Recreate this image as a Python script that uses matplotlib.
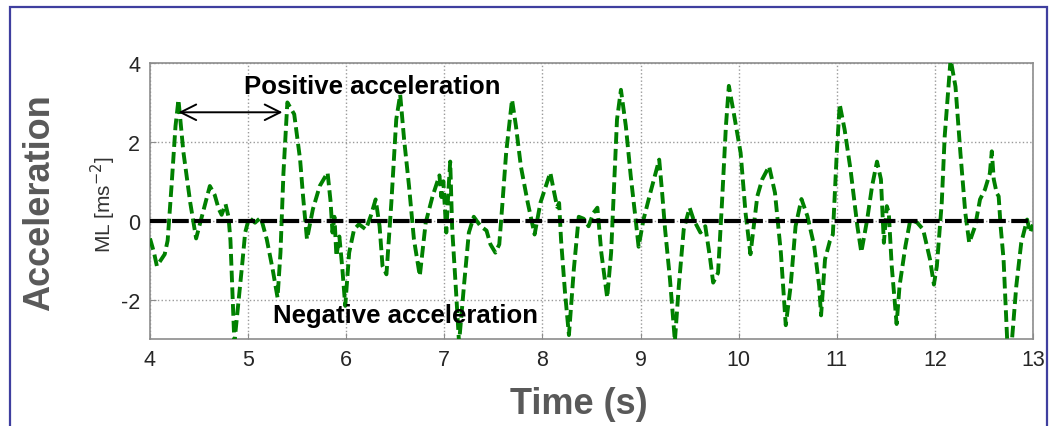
import numpy as np
import matplotlib.pyplot as plt
from matplotlib.patches import Rectangle

# time (s) and medio-lateral acceleration (m/s^2)
time_s = [
    4.00, 4.04, 4.07, 4.11, 4.15, 4.18, 4.22, 4.26, 4.29, 4.34, 4.41, 4.47, 4.53,
    4.58, 4.61, 4.66, 4.70, 4.73, 4.77, 4.80, 4.82, 4.84, 4.86, 4.90, 4.94, 4.97,
    5.01, 5.07, 5.13, 5.19, 5.25, 5.30, 5.33, 5.36, 5.40, 5.47, 5.53, 5.56, 5.60,
    5.66, 5.73, 5.81, 5.84, 5.86, 5.88, 5.90, 5.93, 5.96, 5.99, 6.03, 6.08, 6.13,
    6.20, 6.25, 6.30, 6.34, 6.37, 6.41, 6.46, 6.51, 6.55, 6.59, 6.64, 6.69, 6.75,
    6.81, 6.88, 6.95, 6.97, 6.99, 7.02, 7.04, 7.06, 7.08, 7.12, 7.15, 7.20, 7.25,
    7.30, 7.37, 7.43, 7.47, 7.52, 7.56, 7.59, 7.63, 7.69, 7.73, 7.78, 7.85, 7.92,
    7.98, 8.08, 8.12, 8.15, 8.17, 8.19, 8.23, 8.27, 8.32, 8.37, 8.42, 8.47, 8.52,
    8.56, 8.60, 8.66, 8.70, 8.73, 8.76, 8.80, 8.85, 8.90, 8.95, 8.98, 9.03, 9.10,
    9.19, 9.22, 9.25, 9.30, 9.35, 9.39, 9.44, 9.50, 9.54, 9.61, 9.66, 9.71, 9.74,
    9.79, 9.83, 9.87, 9.90, 9.95, 10.02, 10.07, 10.12, 10.19, 10.24, 10.31, 10.37,
    10.43, 10.48, 10.53, 10.58, 10.64, 10.70, 10.77, 10.82, 10.84, 10.88, 10.93,
    10.96, 11.00, 11.03, 11.08, 11.14, 11.21, 11.25, 11.31, 11.36, 11.41, 11.45,
    11.48, 11.51, 11.53, 11.56, 11.61, 11.64, 11.70, 11.75, 11.82, 11.88, 11.95,
    11.99, 12.02, 12.07, 12.10, 12.16, 12.21, 12.26, 12.31, 12.35, 12.41, 12.46,
    12.51, 12.56, 12.58, 12.60, 12.63, 12.65, 12.67, 12.70, 12.74, 12.78, 12.83,
    12.88, 12.94, 12.97, 13.00,
]
ml_acc = [
    -0.45, -0.80, -1.15, -1.00, -0.85, -0.50, 0.90, 2.40, 3.07, 1.75, 0.46, -0.45, 0.12,
    0.60, 0.88, 0.65, 0.30, 0.15, 0.42, 0.10, -0.50, -1.80, -3.10, -2.10, -1.10, -0.30,
    0.08, -0.05, 0.08, -0.47, -1.23, -1.95, -0.80, 1.20, 3.00, 2.70, 1.55, 0.62, -0.47,
    0.29, 0.88, 1.22, 0.50, -0.30, 0.10, -0.90, -0.40, -1.20, -2.16, -0.81, -0.22, -0.09,
    -0.22, 0.12, 0.54, -0.14, -1.15, -1.36, 0.46, 2.57, 3.20, 2.06, 0.88, -0.47, -1.40,
    -0.05, 0.62, 1.15, 0.60, 1.00, -0.30, 0.70, 1.50, -0.20, -1.82, -3.10, -1.65, -0.30,
    0.10, -0.14, -0.25, -0.60, -0.81, -0.60, 0.37, 1.72, 3.07, 2.40, 1.38, 0.46, -0.35,
    0.46, 1.22, 0.71, 0.35, 0.45, -0.50, -1.82, -2.90, -1.23, 0.10, 0.05, -0.14, 0.20,
    0.33, -0.81, -1.95, -0.81, 0.88, 2.57, 3.32, 2.40, 1.13, 0.03, -0.66, 0.03, 0.71,
    1.55, 0.71, -0.22, -1.49, -3.05, -1.65, -0.22, 0.33, 0.03, -0.30, -0.14, -0.98, -1.57,
    -1.32, 0.46, 2.40, 3.42, 2.73, 1.72, 0.20, -0.85, 0.62, 1.05, 1.38, 0.71,
    -0.81, -2.65, -1.65, -0.14, 0.55, 0.12, -0.64, -1.65, -2.40, -0.98, -0.51,
    -0.35, 1.72, 2.95, 2.31, 1.30, -0.14, -0.80, 0.03, 0.88, 1.50, 1.05,
    -0.56, 0.37, 0.20, -1.15, -2.62, -1.65, -0.64, 0.03, -0.05, -0.22, -0.98,
    -1.62, -1.15, 0.46, 2.14, 4.10, 3.40, 1.72, 0.20, -0.56, -0.14, 0.54,
    0.79, 1.20, 1.76, 1.05, 0.70, 0.62, -0.14, -0.98, -3.20, -3.20, -1.65,
    -0.56, 0.03, -0.30, -0.10,
]

x_ticks = [4, 5, 6, 7, 8, 9, 10, 11, 12, 13]
y_ticks = [-2, 0, 2, 4]

plt.rcParams['font.family'] = ['Liberation Sans', 'DejaVu Sans']
plt.rcParams['axes.unicode_minus'] = False

W, H = 1055, 427
fig = plt.figure(figsize=(W / 100, H / 100), dpi=100)
ax = fig.add_axes([150 / W, 1 - 340 / H, (1033 - 150) / W, (340 - 64) / H])

ax.plot(time_s, ml_acc, color='#008000', lw=2.8, ls='--', dashes=(3.0, 1.3), zorder=3)
ax.axhline(0, color='black', lw=3.0, ls='--', dashes=(4.0, 1.3), zorder=4)

ax.set_xlim(4, 13)
ax.set_ylim(-3, 4)
ax.set_xticks(x_ticks)
ax.set_yticks(y_ticks)
ax.grid(True, ls=':', color='#9a9a9a', lw=1.0)
for s in ax.spines.values():
    s.set_color('#8c8c8c')
    s.set_linewidth(1.2)
ax.tick_params(direction='in', length=4, color='#8c8c8c', labelsize=15.5,
               labelcolor='#262626', pad=7)

# arrow between two consecutive peaks
ax.annotate('', xy=(4.29, 2.75), xytext=(5.35, 2.75),
            arrowprops=dict(arrowstyle='<->', color='black', lw=1.4,
                            mutation_scale=28, shrinkA=0, shrinkB=0), zorder=5)
ax.text(6.27, 3.42, 'Positive acceleration', ha='center', va='center',
        fontsize=18.5, fontweight='bold', color='black', zorder=6)
ax.text(6.6, -2.38, 'Negative acceleration', ha='center', va='center',
        fontsize=18.5, fontweight='bold', color='black', zorder=6)

fig.text(103 / W, 1 - 204 / H, 'ML [ms$^{-2}$]', rotation=90, ha='center', va='center',
         fontsize=15, color='#333333')
fig.text(40 / W, 1 - 203 / H, 'Acceleration', rotation=90, ha='center', va='center',
         fontsize=26, fontweight='bold', color='#595959')
fig.text(579 / W, 1 - 405 / H, 'Time (s)', ha='center', va='center',
         fontsize=26, fontweight='bold', color='#595959')

# outer slide frame
fig.patches.append(Rectangle((10 / W, -0.05), (1047 - 10) / W, 1.05 - 8 / H,
                             transform=fig.transFigure, fill=False,
                             edgecolor='#3f3f9f', lw=1.6))

fig.savefig('out.png', dpi=100)
